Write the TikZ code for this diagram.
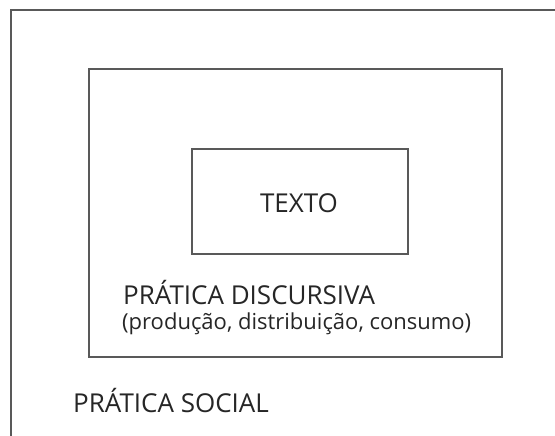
\documentclass[tikz,border=0pt]{standalone}
\usepackage{fontspec}
\setmainfont{Open Sans}

\begin{document}
\begin{tikzpicture}[x=1pt, y=-1pt,
  frame/.style={draw=black!65, line width=1.8pt},
  box/.style={frame, rectangle, inner sep=0pt},
  txt/.style={font=\fontsize{26}{31}\selectfont, text=black!85, inner sep=0pt, anchor=base west},
  small/.style={txt, font=\fontsize{22}{26}\selectfont}]

\useasboundingbox (0,0) rectangle (555,436);
\fill[white] (0,0) rectangle (555,436);

% outer frame runs off the page on the right and at the bottom
\coordinate (topright) at (560,10);
\coordinate (corner) at (11,10);
\coordinate (bottomleft) at (11,441);
\draw[frame] (topright) -- (corner) -- (bottomleft);

\node[box, minimum width=413pt, minimum height=288pt] (discursiva) at (295.5,213) {};
\node[box, minimum width=216pt, minimum height=105pt] (texto) at (300,201.5) {};

\node[txt, anchor=center] (textolbl) at (299,203) {TEXTO};
\node[txt] (discursivalbl) at (123,304) {PRÁTICA DISCURSIVA};
\node[small] (processos) at (122,329) {(produção, distribuição, consumo)};
\node[txt] (social) at (73,412) {PRÁTICA SOCIAL};

\end{tikzpicture}
\end{document}
